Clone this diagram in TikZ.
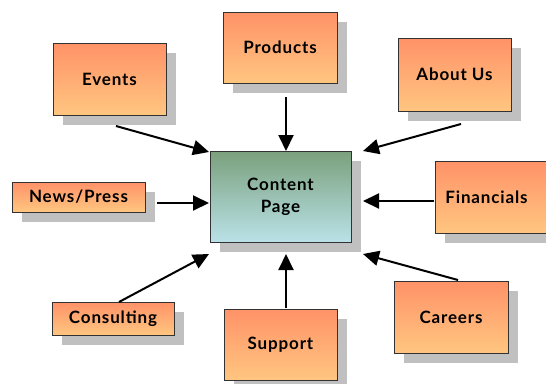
\documentclass[tikz,border=0pt]{standalone}
\usepackage{fontspec}
\setmainfont{Lato}[LetterSpace=5]
\usetikzlibrary{arrows.meta,shadows}
\definecolor{orangetop}{RGB}{255,146,104}
\definecolor{orangebot}{RGB}{255,198,128}
\definecolor{greentop}{RGB}{122,160,124}
\definecolor{greenbot}{RGB}{186,226,232}
\definecolor{shadowgray}{RGB}{192,192,192}
\definecolor{edgegray}{RGB}{50,50,50}
\tikzset{
  pagebox/.style={rectangle, draw=edgegray, line width=1pt, inner sep=0pt,
    font=\fontsize{17}{22}\selectfont\bfseries, align=center,
    drop shadow={shadow xshift=10pt, shadow yshift=-10pt, fill=shadowgray, opacity=1}},
  sectionbox/.style={pagebox, top color=orangetop, bottom color=orangebot},
  hubbox/.style={pagebox, top color=greentop, bottom color=greenbot},
  link/.style={line width=2pt, -{Triangle[length=16pt,width=15pt]}},
}
\begin{document}
\begin{tikzpicture}[x=1pt,y=-1pt]
\useasboundingbox (0,0) rectangle (546,383);
\fill[white] (0,0) rectangle (546,383);

% hub page
\node[hubbox, minimum width=141pt, minimum height=91pt] (content) at (280.5,196.5) {Content\\Page};

% section pages
\node[sectionbox, minimum width=113pt, minimum height=72pt] (events) at (109.5,79) {Events};
\node[sectionbox, minimum width=114pt, minimum height=71pt] (products) at (280,47.5) {Products};
\node[sectionbox, minimum width=113pt, minimum height=73pt] (about) at (454.5,74.5) {About Us};
\node[sectionbox, minimum width=133pt, minimum height=30pt] (news) at (78.5,197) {News/Press};
\node[sectionbox, minimum width=115pt, minimum height=72pt] (financials) at (492.5,197) {\hspace*{-12pt}Financials};
\node[sectionbox, minimum width=122pt, minimum height=33pt] (consulting) at (113,318.5) {Consulting};
\node[sectionbox, minimum width=113pt, minimum height=71pt] (support) at (280.5,344.5) {Support};
\node[sectionbox, minimum width=114pt, minimum height=72pt] (careers) at (451,317) {Careers};

% arrow end points
\coordinate (evS) at (116,126);   \coordinate (evT) at (209,152);
\coordinate (prS) at (286,97);    \coordinate (prT) at (286,151);
\coordinate (abS) at (461,124);   \coordinate (abT) at (363,151);
\coordinate (nwS) at (157,203);   \coordinate (nwT) at (209,203);
\coordinate (fiS) at (434,201);   \coordinate (fiT) at (363,201);
\coordinate (coS) at (119,302);   \coordinate (coT) at (209,254);
\coordinate (suS) at (286,308);   \coordinate (suT) at (286,254);
\coordinate (caS) at (458,280);   \coordinate (caT) at (363,254);

\draw[link] (evS) -- (evT);
\draw[link] (prS) -- (prT);
\draw[link] (abS) -- (abT);
\draw[link] (nwS) -- (nwT);
\draw[link] (fiS) -- (fiT);
\draw[link] (coS) -- (coT);
\draw[link] (suS) -- (suT);
\draw[link] (caS) -- (caT);
\end{tikzpicture}
\end{document}
